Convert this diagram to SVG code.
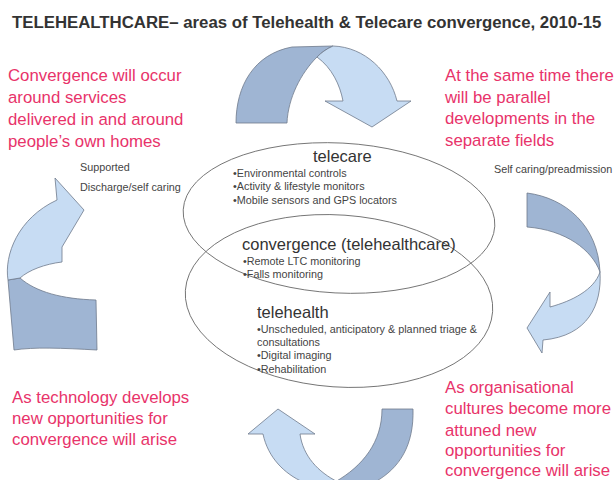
<svg xmlns="http://www.w3.org/2000/svg" width="614" height="480" viewBox="0 0 614 480">
  <style>
    text { font-family: "Liberation Sans", Arial, Helvetica, sans-serif; }
    .title { font-size: 16.8px; font-weight: bold; fill: #333333; }
    .note { font-size: 16.8px; fill: #e8336a; }
    .side { font-size: 10.8px; fill: #444444; }
    .head { font-size: 16.5px; fill: #333333; }
    .item { font-size: 10.8px; fill: #444444; }
    .ring { fill: none; stroke: #6a6a6a; stroke-width: 0.9; }
    .dark { fill: #9fb5d3; stroke: #6f7a8c; stroke-width: 0.8; stroke-linejoin: round; }
    .light { fill: #c7dcf3; stroke: #6f7a8c; stroke-width: 0.8; stroke-linejoin: round; }
  </style>
  <rect width="614" height="480" fill="#ffffff"/>

  <g id="title">
    <text class="title" x="12" y="28">TELEHEALTHCARE– areas of Telehealth &amp; Telecare convergence, 2010-15</text>
  </g>

  <!-- pink commentary in the four corners -->
  <g id="note-top-left">
    <text class="note" x="8" y="81">Convergence will occur</text>
    <text class="note" x="8" y="103">around services</text>
    <text class="note" x="8" y="125">delivered in and around</text>
    <text class="note" x="8" y="147">people’s own homes</text>
  </g>
  <g id="note-top-right">
    <text class="note" x="445" y="81">At the same time there</text>
    <text class="note" x="445" y="103">will be parallel</text>
    <text class="note" x="445" y="124">developments in the</text>
    <text class="note" x="445" y="146">separate fields</text>
  </g>
  <g id="note-bottom-left">
    <text class="note" x="12" y="403">As technology develops</text>
    <text class="note" x="12" y="424">new opportunities for</text>
    <text class="note" x="12" y="445">convergence will arise</text>
  </g>
  <g id="note-bottom-right">
    <text class="note" x="445" y="393">As organisational</text>
    <text class="note" x="445" y="414">cultures become more</text>
    <text class="note" x="445" y="436">attuned new</text>
    <text class="note" x="445" y="456">opportunities for</text>
    <text class="note" x="445" y="476">convergence will arise</text>
  </g>

  <g id="label-supported">
    <text class="side" x="80" y="171">Supported</text>
    <text class="side" x="80" y="191">Discharge/self caring</text>
  </g>
  <g id="label-preadmission">
    <text class="side" x="494" y="173">Self caring/preadmission</text>
  </g>

  <!-- overlapping service areas -->
  <g id="telecare">
    <ellipse class="ring" cx="339" cy="218" rx="156" ry="75" transform="rotate(3 339 218)"/>
    <text class="head" x="313" y="162">telecare</text>
    <text class="item" x="233" y="177">•Environmental controls</text>
    <text class="item" x="233" y="190">•Activity &amp; lifestyle monitors</text>
    <text class="item" x="233" y="204">•Mobile sensors and GPS locators</text>
  </g>
  <g id="telehealth">
    <ellipse class="ring" cx="339" cy="301" rx="154" ry="86" transform="rotate(4 339 301)"/>
    <text class="head" x="257" y="318">telehealth</text>
    <text class="item" x="257" y="333">•Unscheduled, anticipatory &amp; planned  triage &amp;</text>
    <text class="item" x="257" y="346">consultations</text>
    <text class="item" x="257" y="359">•Digital imaging</text>
    <text class="item" x="257" y="373">•Rehabilitation</text>
  </g>
  <g id="convergence">
    <text class="head" x="242" y="250">convergence (telehealthcare)</text>
    <text class="item" x="243" y="265">•Remote LTC monitoring</text>
    <text class="item" x="243" y="278">•Falls monitoring</text>
  </g>

  <!-- cycle of curved ribbon arrows around the areas -->
  <g id="connectors">
    <g id="arrow-top">
      <path class="dark" d="M236,123 C236,86 254,54 292,47 L333,46 C326,49 321,53 317,57 C301,73 288,98 287,123 Z"/>
      <path class="light" d="M333,46 C365,47 390,72 397,101 L411,101 L372,127 L325,101 L343,101 C340,85 332,68 317,57 C321,53 326,49 333,46 Z"/>
    </g>
    <g id="arrow-right">
      <path class="dark" d="M527,193 C566,198 598,226 600,272 C592,250 566,230 527,227 Z"/>
      <path class="light" d="M600,272 C602,305 588,336 543,340 L542,353 L527,328 L550,292 L550,307 C572,301 594,290 600,272 Z"/>
    </g>
    <g id="arrow-bottom">
      <path class="light" d="M278,409 L315,434 L300,434 C303,456 318,472 338,482 L303,482 C285,474 268,458 263,434 L248,434 Z"/>
      <path class="dark" d="M382,409 L413,409 C414,445 400,468 375,482 L335,482 C363,466 382,442 382,409 Z"/>
    </g>
    <g id="arrow-left">
      <path class="dark" d="M8,280 L20,278 C36,292 62,299 96,300 L97,350 C62,348 34,347 14,350 Z"/>
      <path class="light" d="M55,178 L84,210 L62,247 L62,262 C45,264 29,270 20,278 L8,280 C4,255 18,218 57,200 Z"/>
    </g>
  </g>
</svg>
